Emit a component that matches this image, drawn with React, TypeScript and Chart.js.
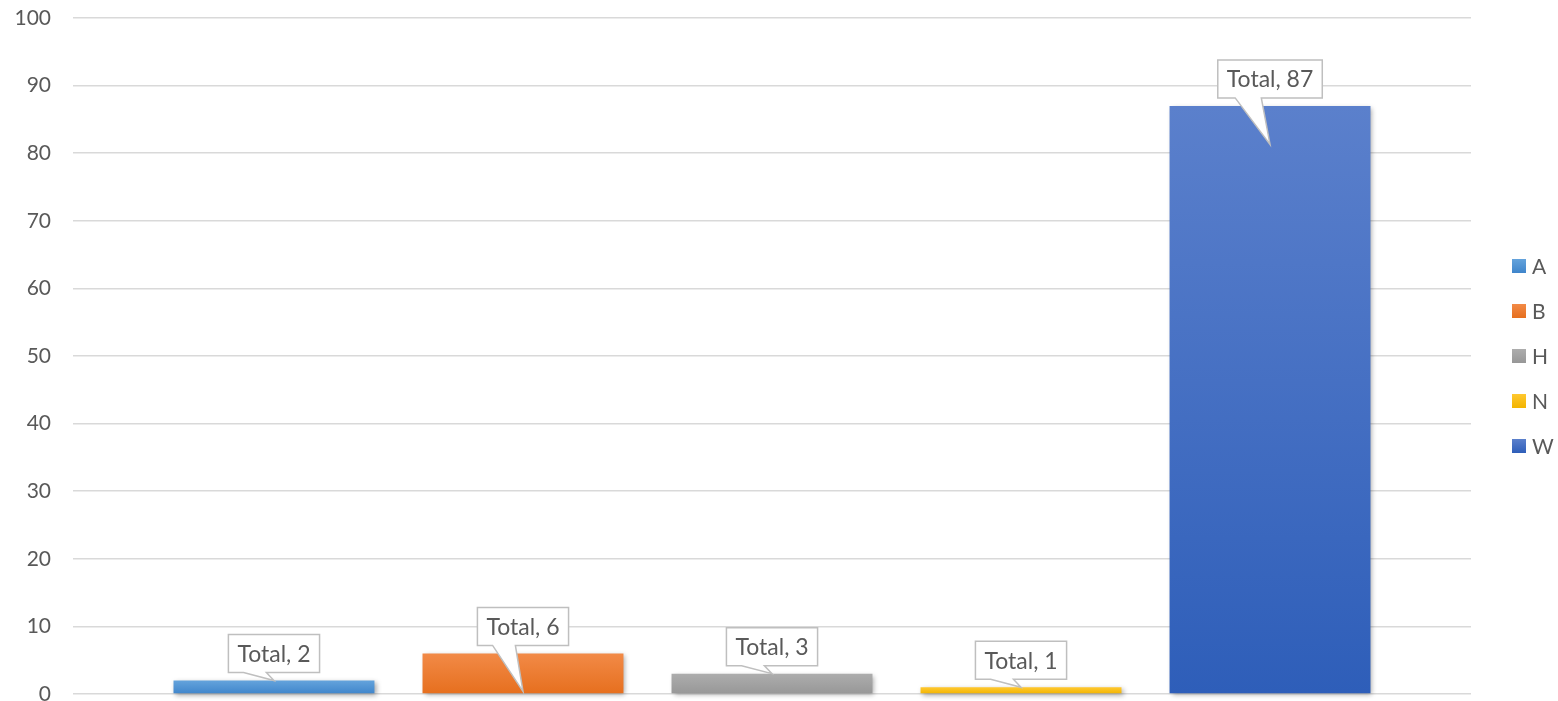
import React, { useEffect, useRef } from "react";
import { Chart, registerables } from "chart.js";

Chart.register(...registerables);

// ---- data ----
const categories = ["Total"];
const seriesNames = ["A", "B", "H", "N", "W"];
const seriesValues = [2, 6, 3, 1, 87];
// where each callout's pointer ends, in data units
const calloutTipValues = [2, 0.4, 3, 1, 81.3];
const yMin = 0;
const yMax = 100;
const yStep = 10;

// ---- styles ----
const topColors = ["#64A3DC", "#F28A47", "#ADADAD", "#FFC830", "#5B80CC"];
const bottomColors = ["#3F85CB", "#E66F1E", "#979797", "#F2B400", "#2E5EB9"];
const solidColors = ["#5B9BD5", "#ED7D31", "#A5A5A5", "#FFC000", "#4472C4"];
const FONT_FAMILY = "Lato, 'Open Sans', sans-serif";
const FONT_SIZE = 21;
const LABEL_FONT_SIZE = 23;
const TEXT_COLOR = "#595959";

const shadowPlugin = {
  id: "barShadow",
  beforeDatasetsDraw(chart: any) {
    const c = chart.ctx;
    c.save();
    c.shadowColor = "rgba(0,0,0,0.35)";
    c.shadowBlur = 5;
    c.shadowOffsetX = 2;
    c.shadowOffsetY = 2;
  },
  afterDatasetsDraw(chart: any) {
    chart.ctx.restore();
  },
};

const calloutPlugin = {
  id: "callouts",
  afterDraw(chart: any) {
    const c = chart.ctx;
    const yScale = chart.scales.y;
    c.save();
    c.font = `${LABEL_FONT_SIZE}px ${FONT_FAMILY}`;
    chart.data.datasets.forEach((ds: any, i: number) => {
      const meta = chart.getDatasetMeta(i);
      const el = meta.data[0];
      if (!el) return;
      const text = `${categories[0]}, ${ds.data[0]}`;
      const tw = c.measureText(text).width;
      const boxW = tw + 18;
      const boxH = 38;
      const bottom = el.y - 8;
      const top = bottom - boxH;
      const left = el.x - boxW / 2;
      const right = left + boxW;
      const tipX = el.x;
      const tipY = yScale.getPixelForValue(calloutTipValues[i]);
      const b1 = left + (boxW * 2) / 12;
      const b2 = left + (boxW * 5) / 12;
      c.beginPath();
      c.moveTo(left, top);
      c.lineTo(right, top);
      c.lineTo(right, bottom);
      c.lineTo(b2, bottom);
      c.lineTo(tipX, tipY);
      c.lineTo(b1, bottom);
      c.lineTo(left, bottom);
      c.closePath();
      c.fillStyle = "#FFFFFF";
      c.fill();
      c.lineWidth = 1.5;
      c.strokeStyle = "#BFBFBF";
      c.stroke();
      c.fillStyle = TEXT_COLOR;
      c.textAlign = "center";
      c.textBaseline = "middle";
      c.fillText(text, left + boxW / 2, top + boxH / 2 + 1);
    });
    c.restore();
  },
};

const legendPlugin = {
  id: "sideLegend",
  afterDraw(chart: any) {
    const c = chart.ctx;
    const area = chart.chartArea;
    const n = seriesNames.length;
    const step = 45;
    const mid = (area.top + area.bottom) / 2;
    const startY = mid - ((n - 1) * step) / 2;
    const boxX = area.right + 41;
    const size = 14;
    c.save();
    c.font = `${FONT_SIZE}px ${FONT_FAMILY}`;
    c.textAlign = "left";
    c.textBaseline = "middle";
    seriesNames.forEach((name, i) => {
      const cy = startY + i * step;
      const g = c.createLinearGradient(0, cy - size / 2, 0, cy + size / 2);
      g.addColorStop(0, topColors[i]);
      g.addColorStop(1, bottomColors[i]);
      c.fillStyle = g;
      c.fillRect(boxX, cy - size / 2, size, size);
      c.fillStyle = TEXT_COLOR;
      c.fillText(name, boxX + size + 6, cy + 1);
    });
    c.restore();
  },
};

function makeFill(i: number) {
  return (ctx: any) => {
    const chart = ctx.chart;
    const yScale = chart.scales && chart.scales.y;
    if (!yScale || !chart.chartArea) return solidColors[i];
    const v = seriesValues[i];
    const top = yScale.getPixelForValue(v);
    const bottom = yScale.getPixelForValue(0);
    if (!isFinite(top) || !isFinite(bottom) || top === bottom) return solidColors[i];
    const g = chart.ctx.createLinearGradient(0, top, 0, bottom);
    g.addColorStop(0, topColors[i]);
    g.addColorStop(1, bottomColors[i]);
    return g;
  };
}

export default function App() {
  const canvasRef = useRef<HTMLCanvasElement | null>(null);

  useEffect(() => {
    document.body.style.margin = "0";
    const canvas = canvasRef.current;
    if (!canvas) return;
    const chart = new Chart(canvas, {
      type: "bar",
      data: {
        labels: categories,
        datasets: seriesNames.map((name, i) => ({
          label: name,
          data: [seriesValues[i]],
          backgroundColor: makeFill(i),
          borderWidth: 0,
          categoryPercentage: 0.8906,
          barPercentage: 0.807,
          clip: false as any,
        })),
      },
      options: {
        responsive: true,
        maintainAspectRatio: false,
        animation: false,
        layout: { padding: { left: 0, right: 87, top: 18, bottom: 7 } },
        plugins: {
          legend: { display: false },
          tooltip: { enabled: false },
        },
        scales: {
          x: { display: false },
          y: {
            min: yMin,
            max: yMax,
            ticks: {
              stepSize: yStep,
              color: TEXT_COLOR,
              font: { family: FONT_FAMILY, size: FONT_SIZE },
              padding: 22,
            },
            grid: { color: "#D9D9D9", lineWidth: 1.5, drawTicks: false },
            border: { display: false },
            afterFit: (scale: any) => {
              scale.width = 73;
              scale.paddingTop = 0;
              scale.paddingBottom = 0;
            },
          },
        },
      },
      plugins: [shadowPlugin, calloutPlugin, legendPlugin],
    });
    return () => chart.destroy();
  }, []);

  return (
    <div style={{ width: 1558, height: 701, position: "relative" }}>
      <canvas ref={canvasRef} />
    </div>
  );
}
